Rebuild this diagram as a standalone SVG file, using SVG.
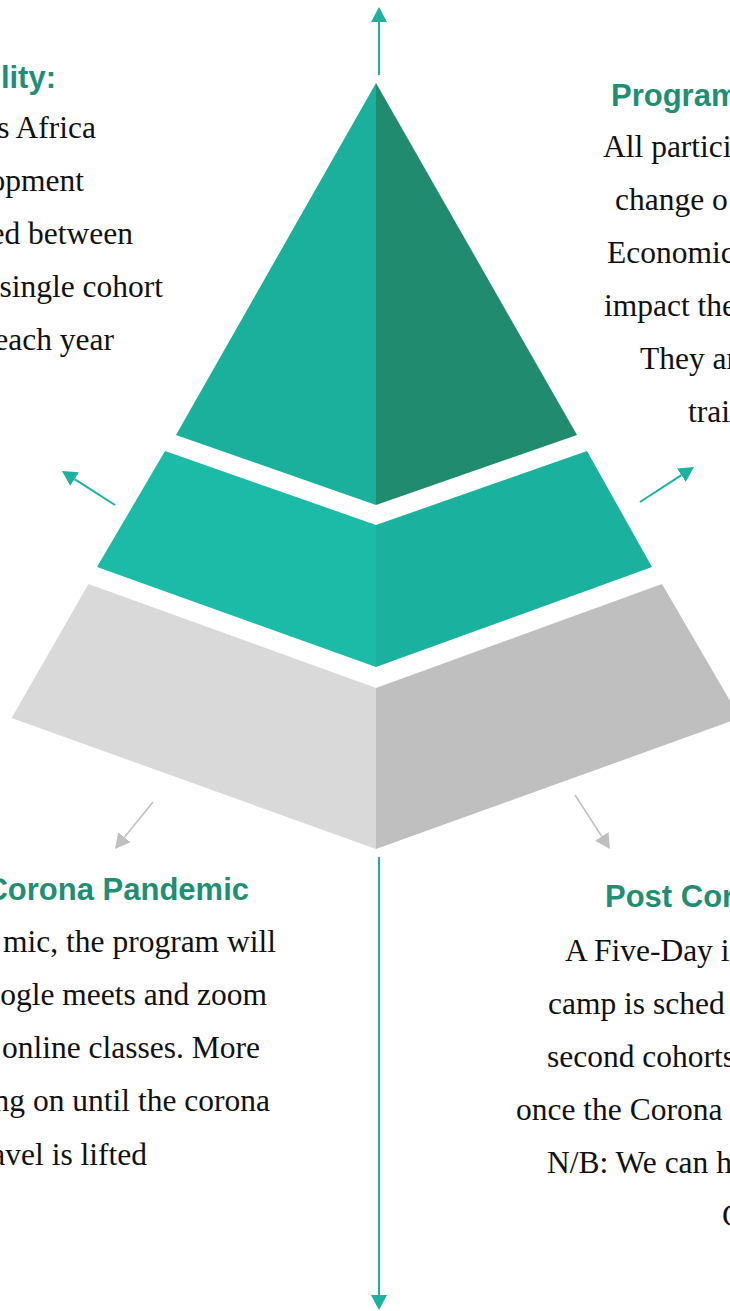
<svg xmlns="http://www.w3.org/2000/svg" width="730" height="1311" viewBox="0 0 730 1311">
<style>
.h{font-family:"Liberation Sans",Arial,sans-serif;font-weight:bold;font-size:31px;fill:#1f8f74}
.b{font-family:"Liberation Serif","Times New Roman",serif;font-size:31.5px;fill:#111}
.e{text-anchor:end}
.tl{fill:none;stroke:#1bb39f;stroke-width:2}
.gl{fill:none;stroke:#c0c0c0;stroke-width:1.6}
</style>
<defs>
<marker id="ta" markerUnits="userSpaceOnUse" markerWidth="15" markerHeight="16" refX="0" refY="8" orient="auto" viewBox="0 0 15 16"><path d="M0,0 L15,8 L0,16 z" fill="#1bb39f"/></marker>
<marker id="ga" markerUnits="userSpaceOnUse" markerWidth="15" markerHeight="16" refX="0" refY="8" orient="auto" viewBox="0 0 15 16"><path d="M0,0 L15,8 L0,16 z" fill="#c0c0c0"/></marker>
</defs>
<g id="level-bottom">
<polygon points="88.5,584 376,688 376,849 11.6,718" fill="#d9d9d9"/>
<polygon points="376,688 662,584 740,718 376,849" fill="#bfbfbf"/>
</g>
<g id="level-middle">
<polygon points="165,451 376,525 376,667 97,567" fill="#1cbba8"/>
<polygon points="376,525 587,451 652,567 376,667" fill="#1ab29e"/>
</g>
<g id="level-top">
<polygon points="376,83 376,505 176,435" fill="#1ab09b"/>
<polygon points="376,83 577,435 376,505" fill="#208b6f"/>
</g>
<g id="connectors">
<line class="tl" x1="379" y1="75" x2="379" y2="22" marker-end="url(#ta)"/>
<line class="tl" x1="379" y1="857" x2="379" y2="1295" marker-end="url(#ta)"/>
<line class="tl" x1="115" y1="505" x2="74.6" y2="479.1" marker-end="url(#ta)"/>
<line class="tl" x1="640" y1="502" x2="681.4" y2="475.2" marker-end="url(#ta)"/>
<line class="gl" x1="153" y1="802" x2="124.4" y2="837.3" marker-end="url(#ga)"/>
<line class="gl" x1="575" y1="795" x2="601.8" y2="836.4" marker-end="url(#ga)"/>
</g>
<g id="text-top-left">
<text class="h e" x="56" y="88">lity:</text>
<text class="b e" x="96" y="138">s Africa</text>
<text class="b e" x="84" y="191">opment</text>
<text class="b e" x="133" y="244">ed between</text>
<text class="b e" x="163" y="297">single cohort</text>
<text class="b e" x="114" y="350">each year</text>
</g>
<g id="text-top-right">
<text class="h" x="611" y="106">Program</text>
<text class="b" x="603" y="157">All partici</text>
<text class="b" x="615" y="210">change o</text>
<text class="b" x="607" y="263">Economic</text>
<text class="b" x="604" y="316">impact the</text>
<text class="b" x="640" y="369">They ar</text>
<text class="b" x="688" y="422">trai</text>
</g>
<g id="text-bottom-left">
<text class="h e" x="249" y="900">Corona Pandemic</text>
<text class="b e" x="276" y="952">mic, the program will</text>
<text class="b e" x="267" y="1005">ogle meets and zoom</text>
<text class="b e" x="260" y="1058">online classes. More</text>
<text class="b e" x="270" y="1111">ng on until the corona</text>
<text class="b e" x="147" y="1165">avel is lifted</text>
</g>
<g id="text-bottom-right">
<text class="h" x="605" y="907">Post Corona</text>
<text class="b" x="565" y="961">A Five-Day i</text>
<text class="b" x="548" y="1014">camp is sched</text>
<text class="b" x="547" y="1067">second cohorts</text>
<text class="b" x="516" y="1120">once the Corona</text>
<text class="b" x="547" y="1173">N/B: We can h</text>
<text class="b" x="722" y="1226">C</text>
</g>
</svg>
